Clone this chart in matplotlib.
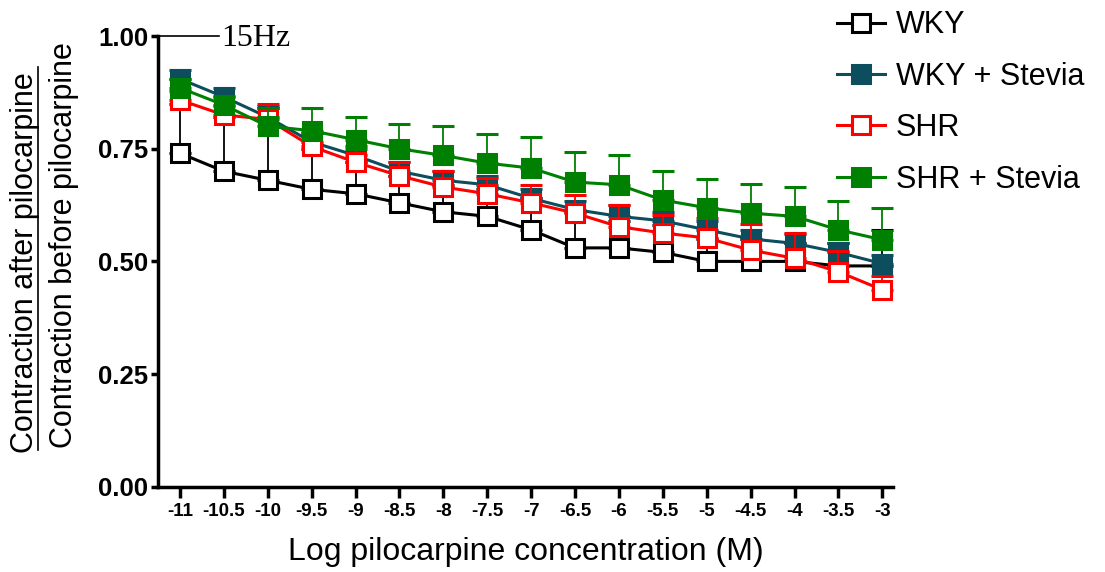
import matplotlib
matplotlib.use("Agg")
import matplotlib.pyplot as plt
from matplotlib.lines import Line2D

plt.rcParams['font.family'] = ['Liberation Sans', 'DejaVu Sans']

# ---------- Data ----------
log_conc = [-11, -10.5, -10, -9.5, -9, -8.5, -8, -7.5, -7, -6.5, -6, -5.5, -5, -4.5, -4, -3.5, -3]
tick_labels = ["-11", "-10.5", "-10", "-9.5", "-9", "-8.5", "-8", "-7.5", "-7",
               "-6.5", "-6", "-5.5", "-5", "-4.5", "-4", "-3.5", "-3"]

wky = [0.74, 0.70, 0.68, 0.66, 0.65, 0.63, 0.61, 0.60, 0.57, 0.53, 0.53, 0.52, 0.50, 0.50, 0.50, 0.49, 0.49]
wky_err = [0.11, 0.12, 0.16, 0.09, 0.07, 0.06, 0.06, 0.06, 0.07, 0.08, 0.06, 0.06, 0.05, 0.05, 0.04, 0.05, 0.08]

wky_stevia = [0.905, 0.865, 0.82, 0.765, 0.735, 0.70, 0.68, 0.67, 0.64, 0.615, 0.60, 0.59, 0.57, 0.55, 0.54, 0.52, 0.495]
wky_stevia_err = [0.02, 0.02, 0.025, 0.02, 0.02, 0.02, 0.02, 0.02, 0.02, 0.02, 0.025, 0.02, 0.02, 0.02, 0.02, 0.02, 0.02]

shr = [0.858, 0.825, 0.815, 0.755, 0.72, 0.69, 0.665, 0.65, 0.63, 0.607, 0.577, 0.563, 0.552, 0.525, 0.507, 0.477, 0.437]
shr_err = [0.02, 0.02, 0.035, 0.03, 0.03, 0.03, 0.035, 0.035, 0.04, 0.04, 0.048, 0.04, 0.045, 0.058, 0.056, 0.045, 0.03]

shr_stevia = [0.885, 0.847, 0.80, 0.79, 0.77, 0.75, 0.735, 0.718, 0.707, 0.676, 0.67, 0.636, 0.619, 0.607, 0.60, 0.57, 0.548]
shr_stevia_err = [0.02, 0.02, 0.04, 0.05, 0.05, 0.055, 0.065, 0.065, 0.07, 0.067, 0.065, 0.065, 0.064, 0.065, 0.065, 0.064, 0.07]

# ---------- Styles ----------
series = [
    ("WKY", wky, wky_err, "black", "white"),
    ("WKY + Stevia", wky_stevia, wky_stevia_err, "#0c4d5e", "#0c4d5e"),
    ("SHR", shr, shr_err, "#ff0000", "white"),
    ("SHR + Stevia", shr_stevia, shr_stevia_err, "#008000", "#008000"),
]

fig = plt.figure(figsize=(11.05, 5.72), dpi=100)
ax = fig.add_axes([0.143, 0.149, 0.665, 0.788])

handles = []
for i, (name, vals, err, col, face) in enumerate(series):
    lower = [0] * len(err)
    ax.errorbar(log_conc, vals, yerr=[lower, err], color=col, lw=2.2,
                marker="s", ms=12.5, mfc=face, mec=col, mew=2.2,
                elinewidth=1.3, capsize=8, capthick=1.3, zorder=3 + i)
    handles.append(Line2D([], [], color=col, lw=2.2, marker="s", ms=12.5,
                          mfc=face, mec=col, mew=2.2))

ax.set_xlim(-11.25, -2.88)
ax.set_ylim(0, 1)
ax.set_yticks([0, 0.25, 0.5, 0.75, 1.0])
ax.set_yticklabels(["0.00", "0.25", "0.50", "0.75", "1.00"])
ax.set_xticks(log_conc)
ax.set_xticklabels(tick_labels)

for s in ["top", "right"]:
    ax.spines[s].set_visible(False)
for s in ["left", "bottom"]:
    ax.spines[s].set_linewidth(2.5)
ax.tick_params(axis="y", length=5, width=2.5, labelsize=18.5, pad=2)
ax.tick_params(axis="x", length=8, width=2.5, labelsize=13.5, pad=4)
for lab in ax.get_xticklabels() + ax.get_yticklabels():
    lab.set_fontweight("bold")

ax.set_xlabel("Log pilocarpine concentration (M)", fontsize=23, labelpad=12)

# two-line y label: numerator underlined over denominator
fig.text(0.023, 0.54, "Contraction after pilocarpine", rotation=90,
         fontsize=22, ha="center", va="center")
fig.add_artist(Line2D([0.034, 0.034], [0.213, 0.883], color="black", lw=1.2,
                      transform=fig.transFigure))
fig.text(0.058, 0.572, "Contraction before pilocarpine", rotation=90,
         fontsize=22, ha="center", va="center")

# 15Hz marker at top of y axis
ax.plot([-11.25, -10.55], [1.0, 1.0], color="black", lw=1.2, clip_on=False)
ax.text(-10.53, 0.995, "15Hz", fontsize=23, family="Liberation Serif",
        va="center", ha="left")

fig.legend(handles, [s[0] for s in series], loc="upper left",
           bbox_to_anchor=(0.733, 1.03), frameon=False, fontsize=22,
           handlelength=1.55, handletextpad=0.35, labelspacing=0.7)

fig.savefig("out.png", dpi=100)
